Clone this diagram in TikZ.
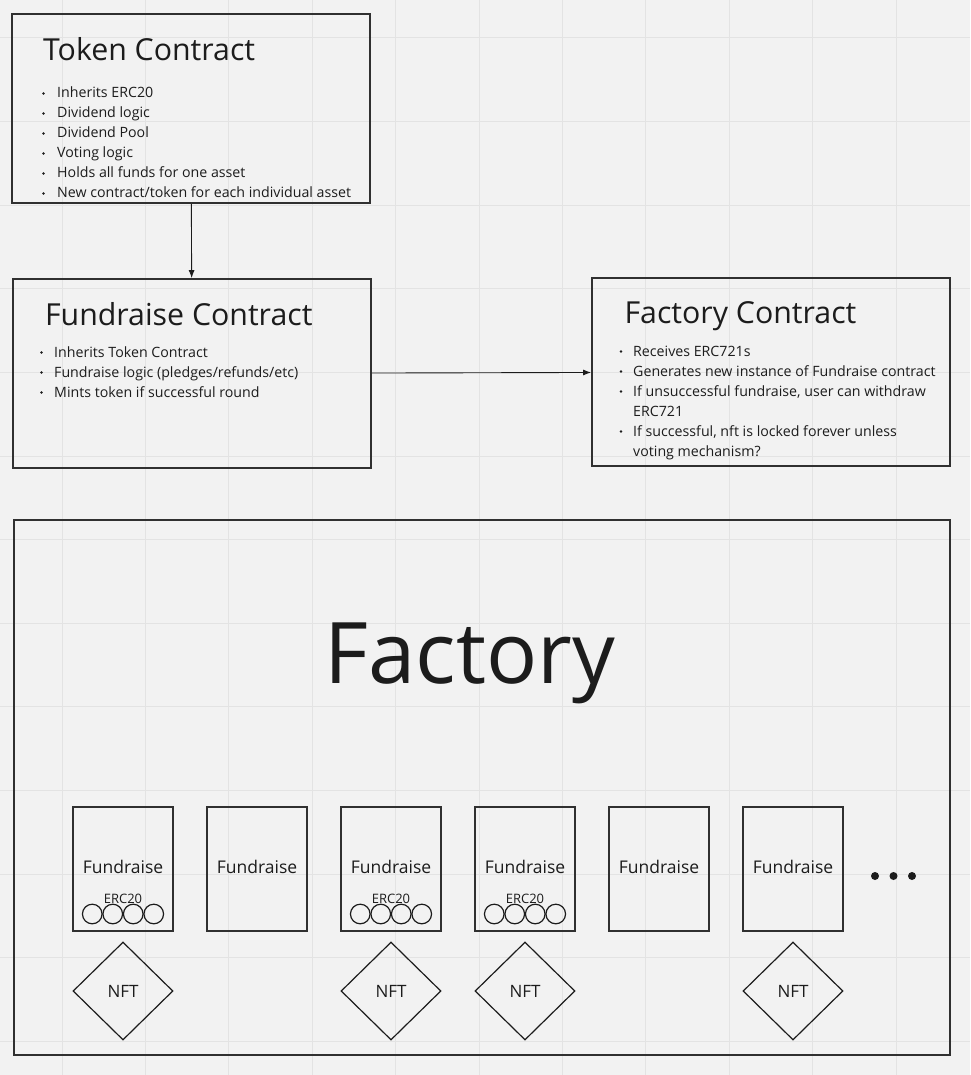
\documentclass[tikz,border=0pt]{standalone}
\usepackage{fontspec}
\setmainfont{Open Sans}
\usetikzlibrary{arrows.meta,positioning,shapes.geometric}
\definecolor{board}{HTML}{F2F2F2}
\definecolor{gridline}{HTML}{E3E3E3}
\definecolor{ink}{HTML}{1C1C1C}
\definecolor{frame}{HTML}{303030}
\newcommand{\titlefont}{\fontsize{30.3}{36}\selectfont}
\newcommand{\itemfont}{\fontsize{14.2}{20}\selectfont}

\begin{document}
\begin{tikzpicture}[x=1pt,y=-1pt,
    every node/.style={text=ink},
    card/.style={draw=frame,line width=1.8pt,inner sep=0pt},
    smallcard/.style={draw=frame,line width=1.6pt,inner sep=0pt,minimum width=100pt,minimum height=124pt},
    nftmark/.style={draw=ink,line width=1.2pt,diamond,aspect=1,inner sep=0pt,minimum width=100pt,minimum height=98pt,font=\fontsize{17}{20}\selectfont},
    coin/.style={draw=ink,line width=1.2pt},
    link/.style={-{Latex[length=8pt,width=6pt]},ink,line width=.9pt}]
  % board with grid
  \fill[board] (0,0) rectangle (970,1075);
  \useasboundingbox (0,0) rectangle (970,1075);
  \foreach \gx in {0,...,10} {\draw[gridline,line width=1pt] (62+\gx*83.4,0) -- +(0,1075);}
  \foreach \gy in {0,...,12} {\draw[gridline,line width=1pt] (0,38+\gy*83.6) -- +(970,0);}

  % contract boxes
  \node[card,minimum width=358pt,minimum height=189pt] (tokenbox) at (191,108.5) {};
  \node[card,minimum width=358pt,minimum height=189pt] (raisebox) at (192,373.5) {};
  \node[card,minimum width=358pt,minimum height=188pt] (factbox) at (771,372) {};

  \node[anchor=base west,font=\titlefont] (tokentitle) at (39.5,61) {Token Contract};
  \node[anchor=base west,font=\titlefont] (raisetitle) at (41.5,325) {Fundraise Contract};
  \node[anchor=base west,font=\titlefont] (facttitle) at (621,323) {Factory Contract};

  \foreach \txt [count=\i] in {Inherits ERC20,Dividend logic,Dividend Pool,Voting logic,Holds all funds for one asset,New contract/token for each individual asset} {
    \fill[ink] (43.5,98+\i*20-20-4.5) circle (1.4);
    \node[anchor=base west,font=\itemfont,inner sep=0pt] (tokenitem\i) at (57,98+\i*20-20) {\txt};
  }
  \foreach \txt [count=\i] in {Inherits Token Contract,Fundraise logic (pledges/refunds/etc),Mints token if successful round} {
    \fill[ink] (41.5,357+\i*20-20-4.5) circle (1.4);
    \node[anchor=base west,font=\itemfont,inner sep=0pt] (raiseitem\i) at (54,357+\i*20-20) {\txt};
  }
  \foreach \txt/\b [count=\i] in {Receives ERC721s/1,Generates new instance of Fundraise contract/1,{If unsuccessful fundraise, user can withdraw}/1,ERC721/0,{If successful, nft is locked forever unless}/1,voting mechanism?/0} {
    \ifnum\b=1 \fill[ink] (621,356+\i*20-20-4.5) circle (1.4); \fi
    \node[anchor=base west,font=\itemfont,inner sep=0pt] (factitem\i) at (633,356+\i*20-20) {\txt};
  }

  \draw[link] (tokenbox) -- (raisebox);
  \draw[link] (raisebox) -- (factbox);

  % factory area
  \node[card,line width=2.2pt,minimum width=936pt,minimum height=535pt] (factoryarea) at (482,787.5) {};
  \node[anchor=base,font=\fontsize{85}{100}\selectfont] (factorytitle) at (470,683) {Factory};

  \foreach \k in {0,...,5} {
    \node[smallcard] (fund\k) at (123+134*\k,869) {};
    \node[anchor=base,font=\fontsize{17.5}{20}\selectfont,inner sep=0pt] (fundlabel\k) at (123+134*\k,873) {Fundraise};
  }
  \foreach \k in {0,2,3} {
    \node[anchor=base,font=\fontsize{13}{15}\selectfont,inner sep=0pt] (erc\k) at (123+134*\k,903) {ERC20};
    \foreach \c in {-30.75,-10.25,10.25,30.75} {\draw[coin] (123+134*\k+\c,914) circle (9.8);}
  }
  \foreach \k in {0,2,3,5} {
    \node[nftmark] (nft\k) at (123+134*\k,991) {NFT};
  }
  \foreach \d in {875,893.5,912} {\fill[ink] (\d,876) circle (4);}
\end{tikzpicture}
\end{document}
